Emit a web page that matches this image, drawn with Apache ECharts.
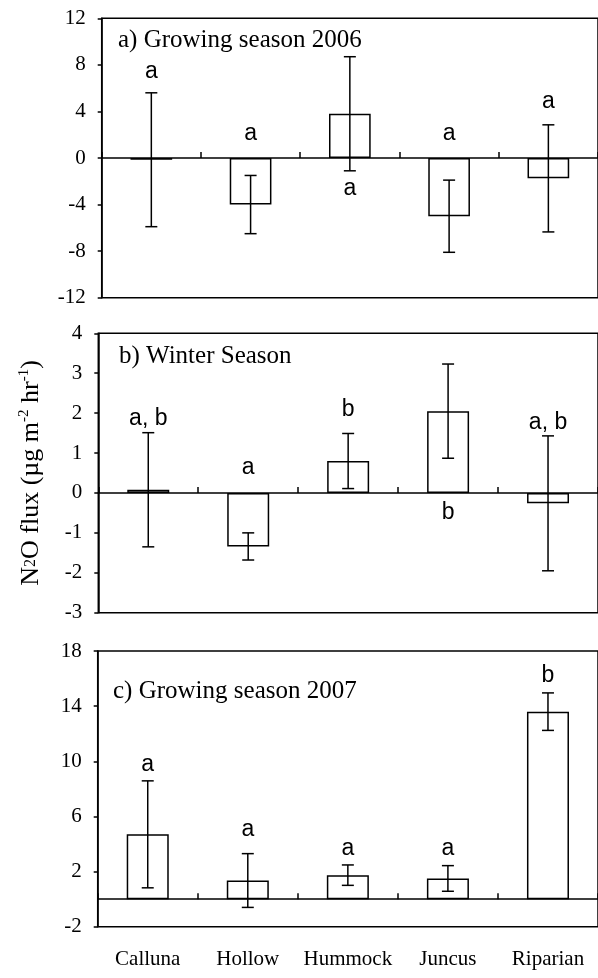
<!DOCTYPE html>
<html><head><meta charset="utf-8">
<script src="https://cdn.jsdelivr.net/npm/echarts@6/dist/echarts.min.js"></script>
<style>html,body{margin:0;padding:0;background:#fff}#c{width:598px;height:978px}</style>
</head><body><div id="c"></div>
<script>
// ---- data ----
const categories = ['Calluna', 'Hollow', 'Hummock', 'Juncus', 'Riparian'];

const titleA = 'a) Growing season 2006';
const meanA = [-0.15, -4.0, 3.8, -5.0, -1.75];
const seA = [5.75, 2.5, 4.9, 3.1, 4.6];
const lettersA = ['a', 'a', 'a', 'a', 'a'];
const letterYA = [7.4, 2.1, -2.6, 2.1, 4.8];
const ticksA = [-12, -8, -4, 0, 4, 8, 12];

const titleB = 'b) Winter Season';
const meanB = [0.08, -1.34, 0.8, 2.05, -0.26];
const seB = [1.43, 0.34, 0.69, 1.18, 1.69];
const lettersB = ['a, b', 'a', 'b', 'b', 'a, b'];
const letterYB = [1.86, 0.63, 2.09, -0.49, 1.75];
const ticksB = [-3, -2, -1, 0, 1, 2, 3, 4];

const titleC = 'c) Growing season 2007';
const meanC = [4.7, 1.35, 1.74, 1.5, 13.6];
const seC = [3.88, 1.95, 0.74, 0.93, 1.36];
const lettersC = ['a', 'a', 'a', 'a', 'b'];
const letterYC = [9.75, 5.03, 3.63, 3.63, 16.2];
const ticksC = [-2, 2, 6, 10, 14, 18];

const yAxisName = 'N{sub|2}O flux (µg m{sup|-2} hr{sup|-1})';

// ---- chart ----
const SERIF = '"Liberation Serif","Times New Roman",serif';
const SANS = '"Liberation Sans",Arial,sans-serif';
const chart = echarts.init(document.getElementById('c'));

const panels = [
  {title: titleA, mean: meanA, se: seA, letters: lettersA, letterY: letterYA, ticks: ticksA,
   grid: {left: 101.7, top: 18.3, width: 498, height: 279.4}, titlePos: {left: 118, top: 27.5}},
  {title: titleB, mean: meanB, se: seB, letters: lettersB, letterY: letterYB, ticks: ticksB,
   grid: {left: 98.3, top: 333.3, width: 506, height: 279.4}, titlePos: {left: 119, top: 343.5}},
  {title: titleC, mean: meanC, se: seC, letters: lettersC, letterY: letterYC, ticks: ticksC,
   grid: {left: 97.7, top: 651, width: 503, height: 275.7}, titlePos: {left: 113, top: 678.5}}
];

const grid = [], xAxis = [], yAxis = [], series = [], title = [];
panels.forEach((p, i) => {
  grid.push(Object.assign({show: true, borderColor: '#000', borderWidth: 1.5, backgroundColor: 'transparent'}, p.grid));
  title.push({text: p.title, left: p.titlePos.left, top: p.titlePos.top, padding: 0,
    textStyle: {fontFamily: SERIF, fontSize: 25, fontWeight: 'normal', color: '#000'}});
  xAxis.push({
    type: 'category', gridIndex: i, data: categories, position: 'bottom',
    axisLine: {show: true, onZero: true, lineStyle: {color: '#000', width: 1.5}},
    axisTick: {show: true, inside: true, length: 6, interval: 0, lineStyle: {color: '#000', width: 1.5}},
    axisLabel: {show: false}, splitLine: {show: false}
  });
  yAxis.push({
    type: 'value', gridIndex: i, min: p.ticks[0], max: p.ticks[p.ticks.length - 1],
    axisLine: {show: true, onZero: false, lineStyle: {color: '#000', width: 1.5}},
    axisTick: {show: true, inside: false, length: 4, customValues: p.ticks, lineStyle: {color: '#000', width: 1.5}},
    axisLabel: {show: true, customValues: p.ticks, margin: 16, color: '#000', fontFamily: SERIF, fontSize: 21},
    splitLine: {show: false}
  });
  series.push({
    type: 'bar', xAxisIndex: i, yAxisIndex: i, data: p.mean, barWidth: '42%',
    itemStyle: {color: '#fff', borderColor: '#000', borderWidth: 1.5}, silent: true
  });
  series.push({
    type: 'custom', xAxisIndex: i, yAxisIndex: i,
    data: p.mean.map((m, k) => [k, m - p.se[k], m + p.se[k]]),
    encode: {x: 0, y: [1, 2]},
    renderItem: function (params, api) {
      const lo = api.coord([api.value(0), api.value(1)]);
      const hi = api.coord([api.value(0), api.value(2)]);
      const hw = 6;
      const ls = {stroke: '#000', lineWidth: 1.5};
      return {type: 'group', children: [
        {type: 'line', shape: {x1: lo[0], y1: lo[1], x2: hi[0], y2: hi[1]}, style: ls},
        {type: 'line', shape: {x1: lo[0] - hw, y1: lo[1], x2: lo[0] + hw, y2: lo[1]}, style: ls},
        {type: 'line', shape: {x1: hi[0] - hw, y1: hi[1], x2: hi[0] + hw, y2: hi[1]}, style: ls}
      ]};
    }, silent: true, z: 3
  });
  series.push({
    type: 'custom', xAxisIndex: i, yAxisIndex: i,
    data: p.letterY.map((y, k) => [k, y]),
    encode: {x: 0, y: 1},
    renderItem: function (params, api) {
      const pt = api.coord([api.value(0), api.value(1)]);
      return {type: 'text', x: pt[0], y: pt[1], style: {
        text: p.letters[params.dataIndex], fill: '#000', fontFamily: SANS, fontSize: 23,
        align: 'center', verticalAlign: 'middle'}};
    }, silent: true, z: 4
  });
});

// category labels under the bottom panel
xAxis.push({
  type: 'category', gridIndex: 2, data: categories, position: 'bottom',
  axisLine: {show: false, onZero: false}, axisTick: {show: false},
  axisLabel: {show: true, interval: 0, margin: 22, color: '#000', fontFamily: SERIF, fontSize: 21},
  splitLine: {show: false}
});

chart.setOption({
  animation: false,
  backgroundColor: '#fff',
  title: title,
  grid: grid, xAxis: xAxis, yAxis: yAxis, series: series,
  graphic: [{
    type: 'text', x: 31, y: 473, rotation: Math.PI / 2,
    style: {
      text: yAxisName, fill: '#000', fontFamily: SERIF, fontSize: 26, lineHeight: 28,
      align: 'center', verticalAlign: 'middle',
      rich: {
        sub: {fontFamily: SERIF, fontSize: 16, lineHeight: 16, verticalAlign: 'middle', fill: '#000'},
        sup: {fontFamily: SERIF, fontSize: 15, lineHeight: 15, verticalAlign: 'top', fill: '#000'}
      }
    }
  }]
});
</script></body></html>
